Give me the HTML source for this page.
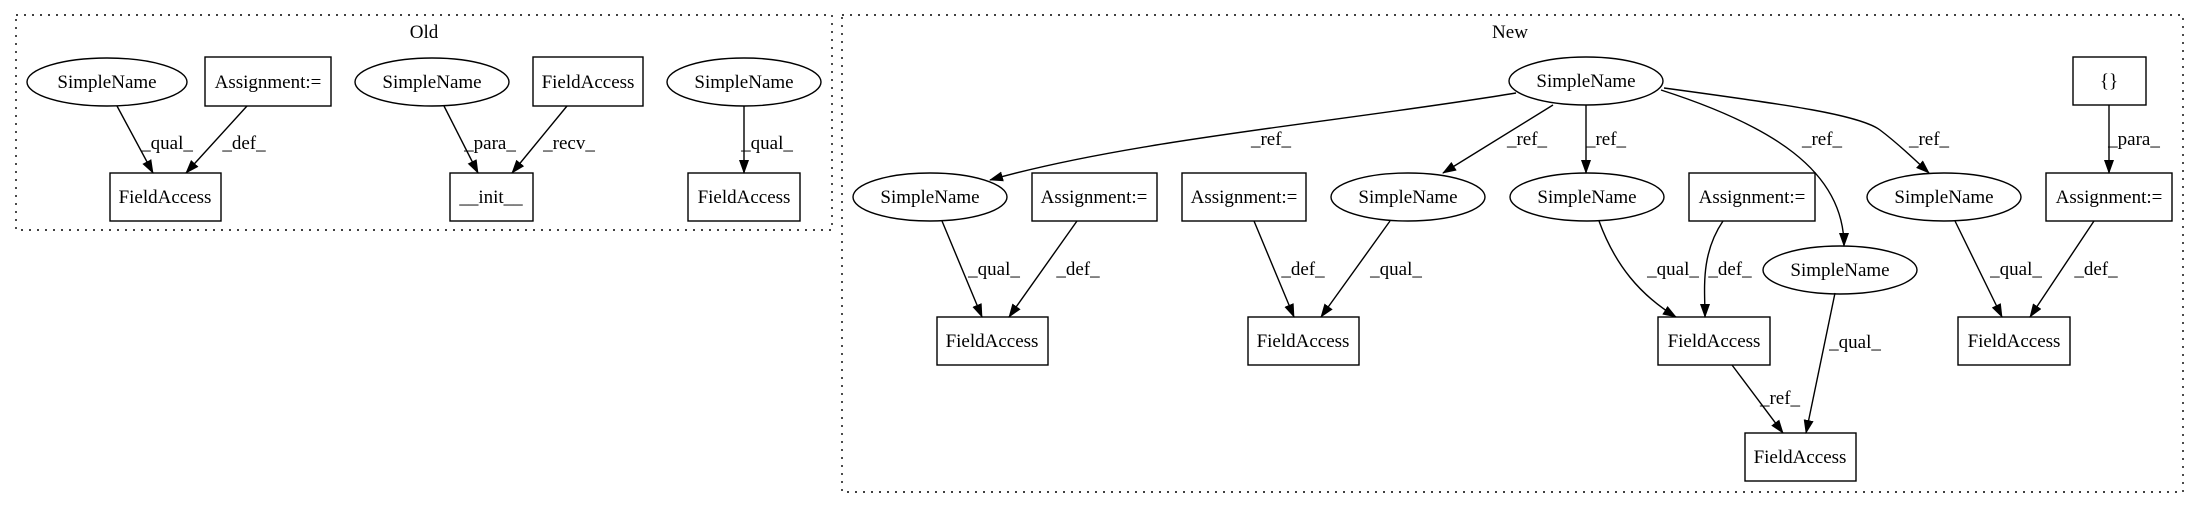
<!DOCTYPE html>
<html><head><meta charset="utf-8"><style>
html,body{margin:0;padding:0;background:#fff;}
svg text{font-family:"Liberation Serif",serif;font-size:19px;fill:#000;}
</style></head><body>
<svg width="2195" height="508" viewBox="0 0 2195 508" xmlns="http://www.w3.org/2000/svg">
<defs><marker id="a" markerWidth="14" markerHeight="10" refX="13" refY="5" orient="auto" markerUnits="userSpaceOnUse"><path d="M0,0 L14,5 L0,10 Z" fill="#000"/></marker></defs>
<g fill="none" stroke="#000" stroke-width="1.4">
<rect x="16" y="15" width="816" height="215" stroke-dasharray="2,6"/>
<rect x="842" y="15" width="1341" height="477" stroke-dasharray="2,6"/>
<!-- Old nodes -->
<ellipse cx="107" cy="82" rx="80" ry="24"/>
<rect x="205" y="57" width="126" height="49"/>
<ellipse cx="432" cy="82" rx="77" ry="24"/>
<rect x="533" y="57" width="110" height="49"/>
<ellipse cx="744" cy="82" rx="77" ry="24"/>
<rect x="110" y="173" width="111" height="48"/>
<rect x="450" y="173" width="83" height="48"/>
<rect x="688" y="173" width="112" height="48"/>
<!-- New nodes -->
<ellipse cx="1586" cy="81" rx="77" ry="24"/>
<rect x="2073" y="57" width="73" height="48"/>
<ellipse cx="930" cy="197" rx="77" ry="24"/>
<rect x="1032" y="173" width="125" height="48"/>
<rect x="1182" y="173" width="124" height="48"/>
<ellipse cx="1408" cy="197" rx="77" ry="24"/>
<ellipse cx="1587" cy="197" rx="77" ry="24"/>
<rect x="1689" y="173" width="126" height="48"/>
<ellipse cx="1944" cy="197" rx="77" ry="24"/>
<rect x="2046" y="173" width="126" height="48"/>
<ellipse cx="1840" cy="270" rx="77" ry="24"/>
<rect x="937" y="317" width="111" height="48"/>
<rect x="1248" y="317" width="111" height="48"/>
<rect x="1658" y="317" width="112" height="48"/>
<rect x="1958" y="317" width="112" height="48"/>
<rect x="1745" y="433" width="111" height="48"/>
<!-- Old edges -->
<g marker-end="url(#a)">
<path d="M117,106 L153,173"/>
<path d="M247,106 L186,173"/>
<path d="M444,106 L478,173"/>
<path d="M567,106 L512,173"/>
<path d="M744,106 L744,173"/>
<!-- New edges -->
<path d="M1516,93 C1340,122 1130,140 990,180"/>
<path d="M1553,105 L1443,173"/>
<path d="M1586,105 L1586,173"/>
<path d="M1661,90 C1770,125 1844,170 1844,246"/>
<path d="M1664,88 C1790,105 1860,115 1880,130 C1900,145 1915,160 1929,173"/>
<path d="M2109,105 L2109,173"/>
<path d="M942,221 L982,317"/>
<path d="M1077,221 L1009,317"/>
<path d="M1254,221 L1294,317"/>
<path d="M1390,221 L1321,317"/>
<path d="M1599,221 C1615,265 1640,295 1676,317"/>
<path d="M1723,221 C1700,255 1705,290 1705,317"/>
<path d="M1835,293 L1806,433"/>
<path d="M1732,365 L1783,433"/>
<path d="M1955,221 L2002,317"/>
<path d="M2094,221 L2030,317"/>
</g>
</g>
<g text-anchor="middle">
<text x="424" y="38">Old</text>
<text x="1510" y="38">New</text>
<text x="107" y="88">SimpleName</text>
<text x="268" y="88">Assignment:=</text>
<text x="432" y="88">SimpleName</text>
<text x="588" y="88">FieldAccess</text>
<text x="744" y="88">SimpleName</text>
<text x="165" y="203">FieldAccess</text>
<text x="491" y="203">__init__</text>
<text x="744" y="203">FieldAccess</text>
<text x="1586" y="87">SimpleName</text>
<text x="2109" y="87">{}</text>
<text x="930" y="203">SimpleName</text>
<text x="1094" y="203">Assignment:=</text>
<text x="1244" y="203">Assignment:=</text>
<text x="1408" y="203">SimpleName</text>
<text x="1587" y="203">SimpleName</text>
<text x="1752" y="203">Assignment:=</text>
<text x="1944" y="203">SimpleName</text>
<text x="2109" y="203">Assignment:=</text>
<text x="1840" y="276">SimpleName</text>
<text x="992" y="347">FieldAccess</text>
<text x="1303" y="347">FieldAccess</text>
<text x="1714" y="347">FieldAccess</text>
<text x="2014" y="347">FieldAccess</text>
<text x="1800" y="463">FieldAccess</text>
<text x="167" y="149">_qual_</text>
<text x="244" y="149">_def_</text>
<text x="490" y="149">_para_</text>
<text x="569" y="149">_recv_</text>
<text x="767" y="149">_qual_</text>
<text x="1271" y="145">_ref_</text>
<text x="1527" y="145">_ref_</text>
<text x="1606" y="145">_ref_</text>
<text x="1822" y="145">_ref_</text>
<text x="1929" y="145">_ref_</text>
<text x="2134" y="145">_para_</text>
<text x="994" y="275">_qual_</text>
<text x="1078" y="275">_def_</text>
<text x="1303" y="275">_def_</text>
<text x="1396" y="275">_qual_</text>
<text x="1673" y="275">_qual_</text>
<text x="1730" y="275">_def_</text>
<text x="2016" y="275">_qual_</text>
<text x="2096" y="275">_def_</text>
<text x="1855" y="348">_qual_</text>
<text x="1780" y="404">_ref_</text>
</g>
</svg>
</body></html>
